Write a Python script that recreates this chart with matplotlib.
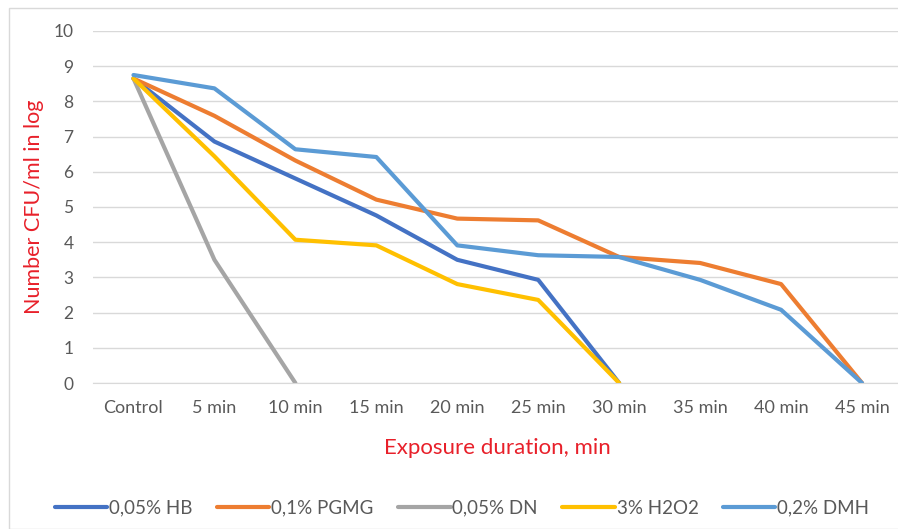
import matplotlib.pyplot as plt
import numpy as np
from matplotlib.patches import Rectangle

plt.rcParams['font.family'] = ['Lato', 'DejaVu Sans']

categories = ['Control', '5 min', '10 min', '15 min', '20 min', '25 min',
              '30 min', '35 min', '40 min', '45 min']

hb = [8.65, 6.86, 5.81, 4.76, 3.50, 2.93, 0]
pgmg = [8.65, 7.59, 6.32, 5.21, 4.67, 4.62, 3.58, 3.41, 2.81, 0]
dn = [8.65, 3.50, 0]
h2o2 = [8.65, 6.44, 4.07, 3.91, 2.81, 2.36, 0]
dmh = [8.75, 8.37, 6.64, 6.42, 3.91, 3.63, 3.58, 2.93, 2.08, 0]

series = [
    ('0,05% HB', hb, '#4472C4'),
    ('0,1% PGMG', pgmg, '#ED7D31'),
    ('0,05% DN', dn, '#A5A5A5'),
    ('3% H2O2', h2o2, '#FFC000'),
    ('0,2% DMH', dmh, '#5B9BD5'),
]

W, H = 898, 529
fig = plt.figure(figsize=(W/100, H/100), dpi=100)

# chart border like the office chart frame
fig.patches.append(Rectangle((9/W, 0), 1.2, 1 - 8/H, transform=fig.transFigure,
                             fill=False, edgecolor='#D9D9D9', lw=1))

ax = fig.add_axes([93/W, (H-383)/H, (902.5-93)/W, 352/H])
x = np.arange(len(categories))
for name, vals, col in series:
    ax.plot(x[:len(vals)], vals, color=col, lw=3, label=name,
            solid_joinstyle='round', solid_capstyle='round')

ax.set_xlim(-0.5, 9.5)
ax.set_ylim(0, 10)
ax.set_yticks(range(0, 11))
ax.set_xticks(x)
ax.set_xticklabels(categories)
ax.yaxis.grid(True, color='#D9D9D9', lw=1)
ax.set_axisbelow(True)
for s in ax.spines.values():
    s.set_visible(False)
ax.spines['bottom'].set_visible(True)
ax.spines['bottom'].set_color('#D9D9D9')
ax.tick_params(length=0, labelsize=12.5, colors='#595959', pad=14)
ax.tick_params(axis='x', labelsize=13, pad=12)

ax.set_ylabel('Number CFU/ml in log', color='#E8202A', fontsize=15.5)
ax.yaxis.set_label_coords(-(93-44)/(902.5-93), 0.5)
ax.set_xlabel('Exposure duration, min', color='#E8202A', fontsize=16)
ax.xaxis.set_label_coords((497-93)/(902.5-93), -0.155)

fig.legend(loc='center', bbox_to_anchor=(462/W, 1-508/H), ncol=5, frameon=False,
           fontsize=13.5, handlelength=2.8, handletextpad=0.1, columnspacing=1.3,
           labelcolor='#595959')

fig.savefig('out.png', dpi=100)
